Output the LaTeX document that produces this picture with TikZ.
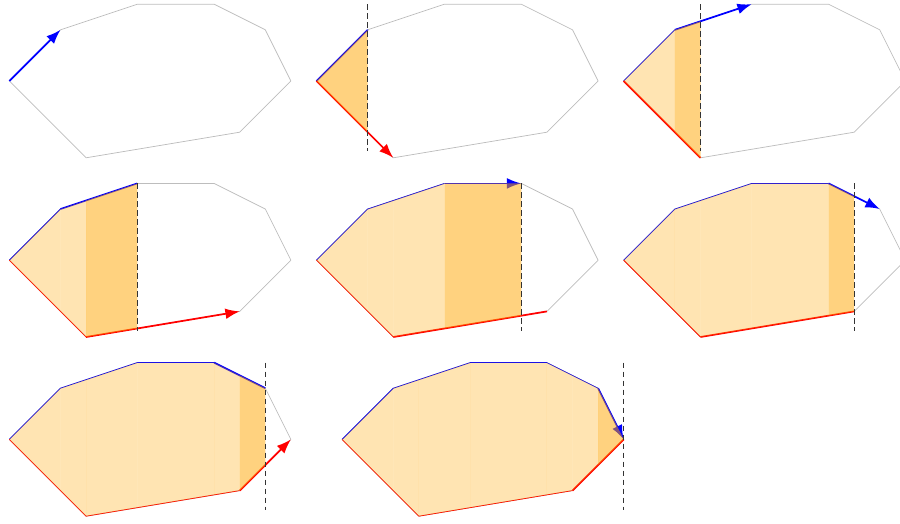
\documentclass[tikz,border=0pt]{standalone}
\usetikzlibrary{arrows.meta}
\definecolor{fillorange}{RGB}{255,165,0}
\tikzset{
  outline/.style={draw=black!26, line width=0.8pt, line join=round},
  upthin/.style={draw=blue, line width=0.8pt, line join=round},
  upthick/.style={draw=blue, line width=1.9pt},
  lothin/.style={draw=red, line width=0.8pt, line join=round},
  lothick/.style={draw=red, line width=1.9pt},
  tip/.style={-{Latex[length=5.6mm,width=4.2mm]}},
  done/.style={fill=fillorange, fill opacity=0.3},
  cur/.style={fill=fillorange, fill opacity=0.5},
  sweep/.style={draw=black!80, line width=1pt, dash pattern=on 6pt off 4pt},
}
\newcommand\mkpanel[4]{%
  \begin{scope}[shift={(#2,#3)}]
    \coordinate (#1A) at (0,0);
    \coordinate (#1B) at (2,2);
    \coordinate (#1C) at (5,3);
    \coordinate (#1D) at (8,3);
    \coordinate (#1E) at (10,2);
    \coordinate (#1F) at (11,0);
    \coordinate (#1G) at (9,-2);
    \coordinate (#1H) at (3,-3);
    \coordinate (#1l2) at (2,-2);
    \coordinate (#1u3) at (3,7/3);
    \coordinate (#1l5) at (5,-8/3);
    \coordinate (#1l8) at (8,-13/6);
    \coordinate (#1u9) at (9,2.5);
    \coordinate (#1l10) at (10,-1);
    \coordinate (#1st) at (#4,3);
    \coordinate (#1sb) at (#4,-2.75);
  \end{scope}
  \draw[outline] (#1A)--(#1B)--(#1C)--(#1D)--(#1E)--(#1F)--(#1G)--(#1H)--cycle;}
\newcommand\TrA[2]{\fill[#2] (#1A)--(#1B)--(#1l2)--cycle;}
\newcommand\TrB[2]{\fill[#2] (#1B)--(#1u3)--(#1H)--(#1l2)--cycle;}
\newcommand\TrC[2]{\fill[#2] (#1u3)--(#1C)--(#1l5)--(#1H)--cycle;}
\newcommand\TrD[2]{\fill[#2] (#1C)--(#1D)--(#1l8)--(#1l5)--cycle;}
\newcommand\TrE[2]{\fill[#2] (#1D)--(#1u9)--(#1G)--(#1l8)--cycle;}
\newcommand\TrF[2]{\fill[#2] (#1u9)--(#1E)--(#1l10)--(#1G)--cycle;}
\newcommand\TrG[2]{\fill[#2] (#1E)--(#1F)--(#1l10)--cycle;}

\begin{document}
\begin{tikzpicture}
\useasboundingbox (-0.363,-17.266) rectangle (34.793,3.164);

% Panel 1
\mkpanel{a}{0}{0}{0}
\draw[upthick,tip] (aA)--(aB);

% Panel 2
\mkpanel{b}{12}{0}{2}
\draw[upthick] (bA)--(bB);
\draw[lothick,tip] (bA)--(bH);
\TrA{b}{cur}
\draw[sweep] (bst)--(bsb);

% Panel 3
\mkpanel{c}{24}{0}{3}
\draw[upthin] (cA)--(cB);
\draw[upthick,tip] (cB)--(cC);
\draw[lothick] (cA)--(cH);
\TrA{c}{done}
\TrB{c}{cur}
\draw[sweep] (cst)--(csb);

% Panel 4
\mkpanel{d}{0}{-7}{5}
\draw[upthin] (dA)--(dB);
\draw[upthick] (dB)--(dC);
\draw[lothin] (dA)--(dH);
\draw[lothick,tip] (dH)--(dG);
\TrA{d}{done}
\TrB{d}{done}
\TrC{d}{cur}
\draw[sweep] (dst)--(dsb);

% Panel 5
\mkpanel{e}{12}{-7}{8}
\draw[upthin] (eA)--(eB)--(eC);
\draw[upthick,tip] (eC)--(eD);
\draw[lothin] (eA)--(eH);
\draw[lothick] (eH)--(eG);
\TrA{e}{done}
\TrB{e}{done}
\TrC{e}{done}
\TrD{e}{cur}
\draw[sweep] (est)--(esb);

% Panel 6
\mkpanel{f}{24}{-7}{9}
\draw[upthin] (fA)--(fB)--(fC)--(fD);
\draw[upthick,tip] (fD)--(fE);
\draw[lothin] (fA)--(fH);
\draw[lothick] (fH)--(fG);
\TrA{f}{done}
\TrB{f}{done}
\TrC{f}{done}
\TrD{f}{done}
\TrE{f}{cur}
\draw[sweep] (fst)--(fsb);

% Panel 7
\mkpanel{g}{0}{-14}{10}
\draw[upthin] (gA)--(gB)--(gC)--(gD);
\draw[upthick] (gD)--(gE);
\draw[lothin] (gA)--(gH)--(gG);
\draw[lothick,tip] (gG)--(gF);
\TrA{g}{done}
\TrB{g}{done}
\TrC{g}{done}
\TrD{g}{done}
\TrE{g}{done}
\TrF{g}{cur}
\draw[sweep] (gst)--(gsb);

% Panel 8
\mkpanel{h}{13}{-14}{11}
\draw[upthin] (hA)--(hB)--(hC)--(hD)--(hE);
\draw[upthick,tip] (hE)--(hF);
\draw[lothin] (hA)--(hH)--(hG);
\draw[lothick] (hG)--(hF);
\TrA{h}{done}
\TrB{h}{done}
\TrC{h}{done}
\TrD{h}{done}
\TrE{h}{done}
\TrF{h}{done}
\TrG{h}{cur}
\draw[sweep] (hst)--(hsb);
\end{tikzpicture}
\end{document}
